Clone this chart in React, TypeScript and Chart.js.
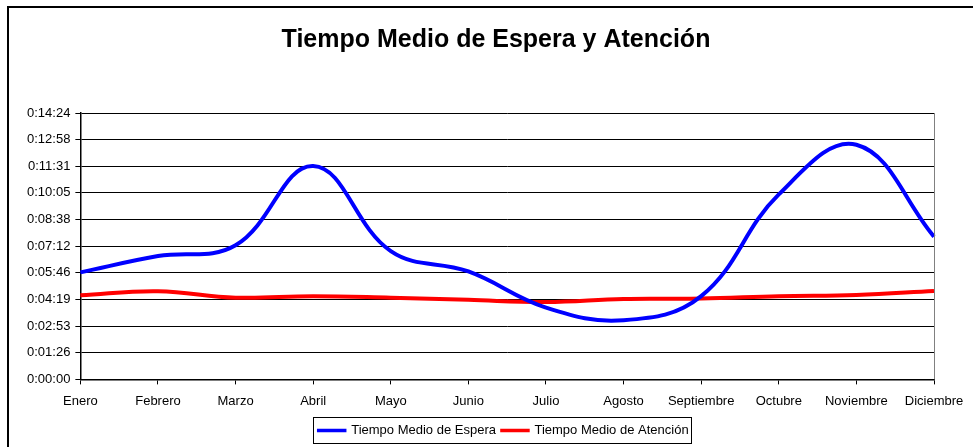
import React, { useEffect, useRef } from "react";
import { Chart, registerables } from "chart.js";

Chart.register(...registerables);

const titleText = "Tiempo Medio de Espera y Atención";
const months = ["Enero", "Febrero", "Marzo", "Abril", "Mayo", "Junio", "Julio", "Agosto", "Septiembre", "Octubre", "Noviembre", "Diciembre"];
// values in seconds
const esperaSeg = [347, 400, 435, 692, 416, 350, 233, 192, 270, 600, 761, 463];
const atencionSeg = [273, 286, 265, 270, 265, 258, 251, 261, 262, 270, 274, 287];
const yTickSeg = [0, 86.4, 172.8, 259.2, 345.6, 432, 518.4, 604.8, 691.2, 777.6, 864];
const seriesNames = ["Tiempo Medio de Espera", "Tiempo Medio de Atención"];

const FONT = "Arial, 'Liberation Sans', sans-serif";
const LEGEND_PAD = 6;
const LEGEND_START = 310.7; // canvas x of first legend item

function fmt(sec: number): string {
  const s = Math.round(sec);
  const h = Math.floor(s / 3600);
  const m = Math.floor((s % 3600) / 60);
  const r = s % 60;
  return `${h}:${String(m).padStart(2, "0")}:${String(r).padStart(2, "0")}`;
}

const framePlugin = {
  id: "framePlugin",
  afterLayout(chart: any) {
    const t = chart.titleBlock;
    if (t) {
      t.left = 0;
      t.right = chart.width;
      t.width = chart.width;
    }
    const lg = chart.legend;
    if (lg && lg.lineWidths) {
      const lw = lg.lineWidths[0];
      const cur = (lg.left + LEGEND_PAD + lg.right - lw) / 2;
      const dx = LEGEND_START - cur;
      lg.left += dx;
      lg.right += dx;
    }
  },
  afterDraw(chart: any) {
    const ctx = chart.ctx;
    const ca = chart.chartArea;
    ctx.save();
    ctx.strokeStyle = "#808080";
    ctx.lineWidth = 1;
    ctx.beginPath();
    ctx.moveTo(Math.round(ca.right) + 0.5, ca.top);
    ctx.lineTo(Math.round(ca.right) + 0.5, ca.bottom);
    ctx.stroke();
    const hb = chart.legend && chart.legend.legendHitBoxes;
    if (hb && hb.length) {
      let l = Infinity, r = -Infinity, t = Infinity, b = -Infinity;
      hb.forEach((h: any) => {
        l = Math.min(l, h.left);
        r = Math.max(r, h.left + h.width);
        t = Math.min(t, h.top);
        b = Math.max(b, h.top + h.height);
      });
      ctx.strokeStyle = "#000";
      ctx.lineWidth = 1;
      const x0 = Math.round(l - 6) + 0.5;
      const x1 = Math.round(r + 2) + 0.5;
      const y0 = Math.round(t - 7) + 0.5;
      const y1 = Math.round(b + 6) + 0.5;
      ctx.strokeRect(x0, y0, x1 - x0, y1 - y0);
    }
    ctx.restore();
  },
};

export default function App() {
  const ref = useRef<HTMLCanvasElement | null>(null);
  useEffect(() => {
    if (!ref.current) return;
    const chart = new Chart(ref.current, {
      type: "line",
      data: {
        labels: months,
        datasets: [
          {
            label: seriesNames[0],
            data: esperaSeg,
            borderColor: "#0000FF",
            backgroundColor: "#0000FF",
            borderWidth: 4,
            pointRadius: 0,
            tension: 0.4,
          },
          {
            label: seriesNames[1],
            data: atencionSeg,
            borderColor: "#FF0000",
            backgroundColor: "#FF0000",
            borderWidth: 4,
            pointRadius: 0,
            tension: 0.4,
          },
        ],
      },
      options: {
        animation: false,
        responsive: false,
        maintainAspectRatio: false,
        layout: { padding: { top: 17, left: 14, right: 50, bottom: 0 } },
        plugins: {
          title: {
            display: true,
            text: titleText,
            color: "#000",
            font: { family: FONT, size: 25, weight: "bold" },
            padding: { top: 0, bottom: 58 },
          },
          legend: {
            display: true,
            position: "bottom",
            labels: {
              usePointStyle: true,
              pointStyle: "line",
              pointStyleWidth: 26,
              color: "#000",
              font: { family: FONT, size: 13 },
              padding: LEGEND_PAD,
              generateLabels: (chart: any) => {
                const items = Chart.defaults.plugins.legend.labels.generateLabels(chart);
                return items.map((it: any) => ({ ...it, lineCap: "square", lineWidth: 3.5 }));
              },
            },
          },
          tooltip: { enabled: false },
        },
        scales: {
          x: {
            offset: false,
            grid: { display: true, drawOnChartArea: false, drawTicks: true, tickLength: 5, color: "#000", tickColor: "#000" },
            border: { display: true, color: "#000", width: 1.5 },
            ticks: { color: "#000", font: { family: FONT, size: 13 }, padding: 9, maxRotation: 0, autoSkip: false },
          },
          y: {
            min: 0,
            max: 864,
            afterBuildTicks: (scale: any) => {
              scale.ticks = yTickSeg.map((v) => ({ value: v }));
            },
            grid: { display: true, drawTicks: true, tickLength: 5, color: "#000", tickColor: "#000", lineWidth: 1 },
            border: { display: true, color: "#000", width: 1.5 },
            ticks: {
              color: "#000",
              font: { family: FONT, size: 13 },
              padding: 5,
              callback: (v: any) => fmt(Number(v)),
            },
          },
        },
      },
      plugins: [framePlugin],
    });
    return () => chart.destroy();
  }, []);

  return (
    <div style={{ position: "fixed", left: 0, top: 0, width: 973, height: 447, overflow: "hidden", background: "#fff" }}>
      <div
        style={{
          position: "absolute",
          left: 7,
          top: 6,
          width: 1100,
          height: 600,
          borderTop: "2px solid #000",
          borderLeft: "2px solid #000",
        }}
      />
      <canvas ref={ref} width={976} height={439} style={{ position: "absolute", left: 8, top: 8, width: 976, height: 439 }} />
    </div>
  );
}
